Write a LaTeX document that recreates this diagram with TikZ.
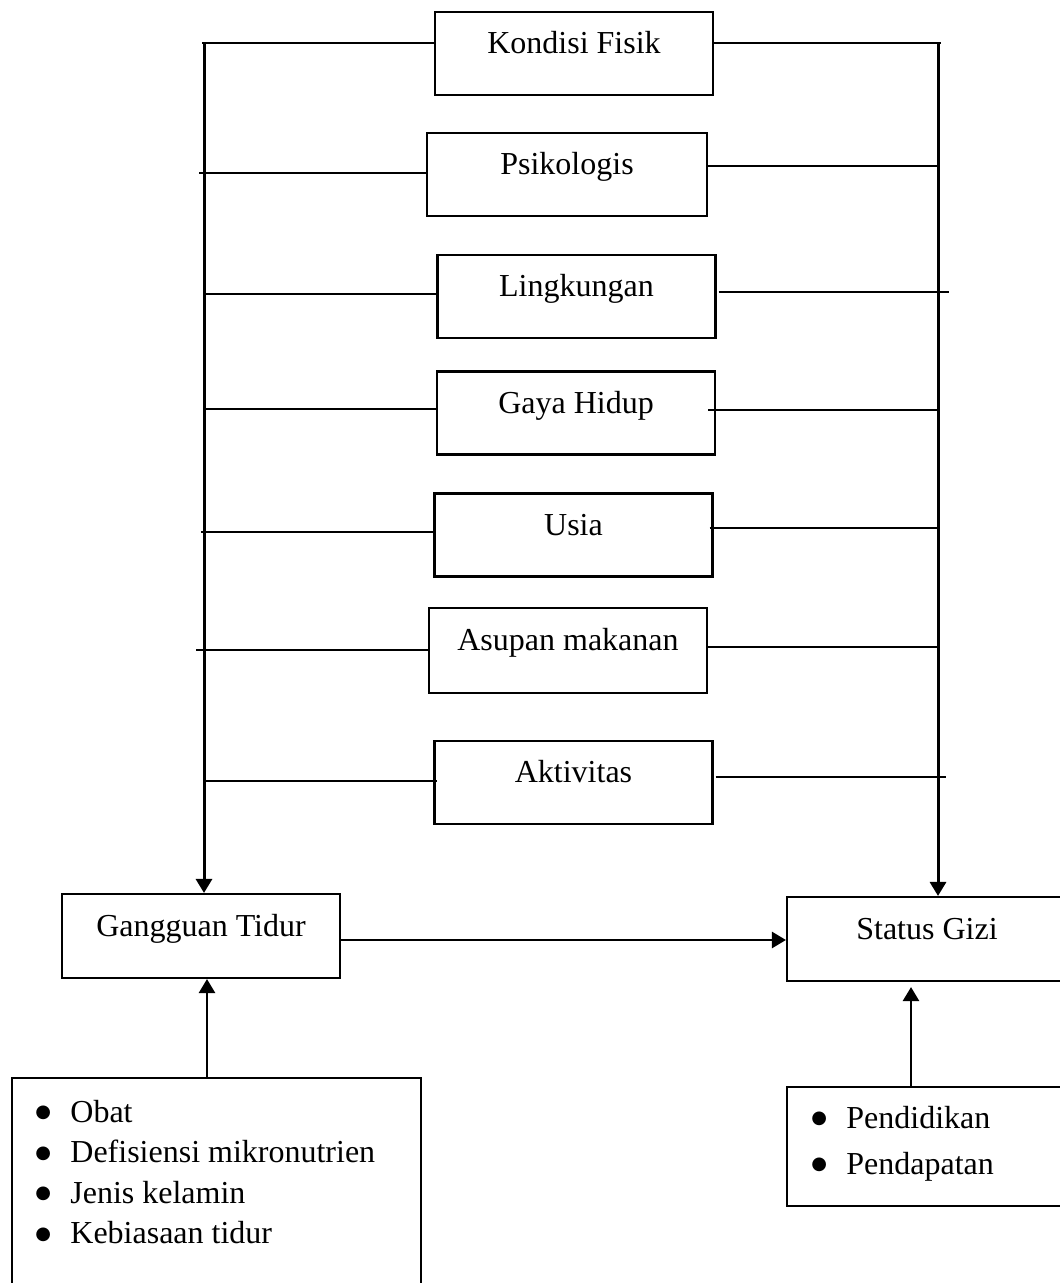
\documentclass[tikz,border=0pt]{standalone}
\usepackage{fontspec}
\setmainfont{Liberation Serif}
\newfontfamily\symfont{DejaVu Sans}
\usetikzlibrary{arrows.meta}
\newcommand{\bitem}[1]{\makebox[17.5pt][l]{\raisebox{2.2pt}{\symfont\fontsize{9pt}{9pt}\selectfont ●}}#1}
\begin{document}
\begin{tikzpicture}[x=0.5pt,y=-0.5pt,
  txt/.style={font=\fontsize{16pt}{20pt}\selectfont},
  factor/.style={txt,draw,line width=1.05pt,inner sep=0pt,text height=6pt,text depth=6pt,
    minimum width=139pt,minimum height=41.5pt},
  listbox/.style={draw,line width=1.05pt,inner sep=0pt},
  itemtxt/.style={txt,anchor=base west,inner sep=0pt},
  hline/.style={line width=1pt},
  vline/.style={line width=1.5pt,-{Triangle[length=7pt,width=8pt]}},
  arr/.style={line width=1.3pt,-{Triangle[length=7pt,width=8pt]}}]
\useasboundingbox (0,0) rectangle (1059,1283);

% factor boxes
\node[factor] (kf) at (574,53.5) {Kondisi Fisik};
\node[factor,minimum width=140pt] (ps) at (567,174.5) {Psikologis};
\node[factor] (lk) at (576.5,296.5) {Lingkungan};
\node[factor] (gh) at (576,413) {Gaya Hidup};
\node[factor] (us) at (573.5,535) {Usia};
\node[factor,minimum height=42.5pt] (as) at (568,650.5) {Asupan makanan};
\node[factor] (ak) at (573.5,782.5) {Aktivitas};

% main boxes
\node[factor,minimum height=42pt] (gt) at (201,936) {Gangguan Tidur};
\node[factor,minimum width=140pt,minimum height=42pt] (sg) at (927,939) {Status Gizi};

% list boxes
\node[listbox,minimum width=204.5pt,minimum height=111pt] (bl) at (216.5,1189) {};
\node[listbox,minimum width=140pt,minimum height=59.5pt] (br) at (927,1146.5) {};
\node[itemtxt] (o1) at (35,1122) {\bitem{Obat}};
\node[itemtxt] (o2) at (35,1162.5) {\bitem{Defisiensi mikronutrien}};
\node[itemtxt] (o3) at (35,1203) {\bitem{Jenis kelamin}};
\node[itemtxt] (o4) at (35,1243.5) {\bitem{Kebiasaan tidur}};
\node[itemtxt] (p1) at (811,1128) {\bitem{Pendidikan}};
\node[itemtxt] (p2) at (811,1174) {\bitem{Pendapatan}};

% vertical collector lines
\coordinate (LT) at (204,43);
\coordinate (RT) at (938,43);
\draw[vline] (LT) -- (LT |- gt.north);
\draw[vline] (RT) -- (RT |- sg.north);

% left side lines
\coordinate (l1) at (202,43);
\coordinate (l2) at (199,173);
\coordinate (l3) at (205,294);
\coordinate (l4) at (205,409);
\coordinate (l5) at (201,532);
\coordinate (l6) at (196,650);
\coordinate (l7) at (206,781);
\draw[hline] (l1) -- (kf.west |- l1);
\draw[hline] (l2) -- (ps.west |- l2);
\draw[hline] (l3) -- (lk.west |- l3);
\draw[hline] (l4) -- (gh.west |- l4);
\draw[hline] (l5) -- (us.west |- l5);
\draw[hline] (l6) -- (as.west |- l6);
\draw[hline] (l7) -- ([xshift=2pt]ak.west |- l7);

% right side lines
\coordinate (r1) at (941,43);
\coordinate (r2) at (938,166);
\coordinate (r3) at (949,292);
\coordinate (r4) at (938,410);
\coordinate (r5) at (939,528);
\coordinate (r6) at (938,647);
\coordinate (r7) at (946,777);
\draw[hline] (kf.east |- r1) -- (r1);
\draw[hline] (ps.east |- r2) -- (r2);
\draw[hline] ([xshift=1pt]lk.east |- r3) -- (r3);
\draw[hline] ([xshift=-4pt]gh.east |- r4) -- (r4);
\draw[hline] ([xshift=-2pt]us.east |- r5) -- (r5);
\draw[hline] (as.east |- r6) -- (r6);
\draw[hline] ([xshift=1pt]ak.east |- r7) -- (r7);

% main arrows
\draw[arr] ([yshift=-2pt]gt.east) -- ([yshift=-2pt]gt.east -| sg.west);
\draw[arr] ([xshift=-4.75pt]bl.north) -- ([xshift=-4.75pt]bl.north |- gt.south);
\draw[arr,shorten >=2.5pt] ([xshift=-8pt]br.north) -- ([xshift=-8pt]br.north |- sg.south);
\end{tikzpicture}
\end{document}
